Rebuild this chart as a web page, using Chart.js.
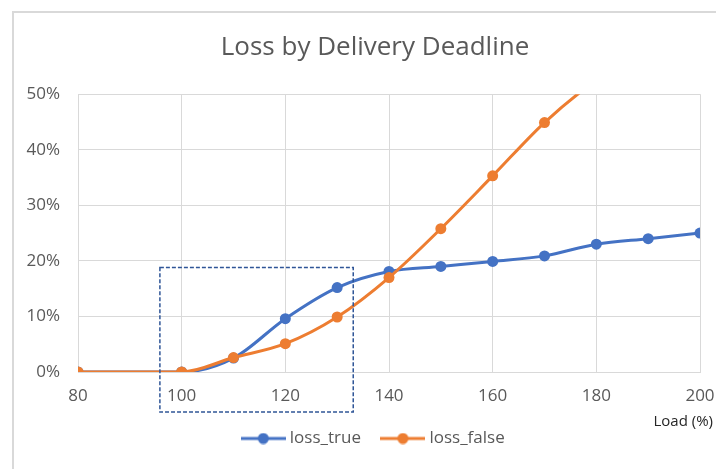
<!DOCTYPE html>
<html>
<head>
<meta charset="utf-8">
<script src="https://cdn.jsdelivr.net/npm/chart.js@4.4.0/dist/chart.umd.min.js"></script>
<style>
  body { margin: 0; background: #fff; }
</style>
</head>
<body>
<canvas id="myChart" width="716" height="469"></canvas>
<script>
'use strict';
// Load (%) on the x axis
const loads = [80, 100, 110, 120, 130, 140, 150, 160, 170, 180, 190, 200];
// Loss in percent (loss_false runs off the top after ~176)
const lossTrue = [0, 0, 2.5, 9.6, 15.2, 18.1, 19.0, 19.9, 20.9, 23.0, 24.0, 25.0];
const lossFalse = [0, 0, 2.6, 5.1, 9.9, 17.0, 25.8, 35.3, 44.9, 52.5, 58, 63];
const seriesNames = ['loss_true', 'loss_false'];
const xTicks = [80, 100, 120, 140, 160, 180, 200];
const yTicks = [0, 10, 20, 30, 40, 50];
// The dashed highlight box, in data units
const zoomBox = {xMin: 95.8, xMax: 133.1, yMin: -7.2, yMax: 18.8};

const blue = '#4472C4';
const orange = '#ED7D31';
const grey = '#595959';
const gridColor = '#D9D9D9';
const font = '"Open Sans", sans-serif';

function toPoints(values) {
    return values.map((v, i) => ({x: loads[i], y: v}));
}

// Little line + dot image for the legend, like Excel draws it
function legendMarker(color) {
    let c = document.createElement('canvas');
    c.width = 45;
    c.height = 12;
    let g = c.getContext('2d');
    g.strokeStyle = color;
    g.lineWidth = 3;
    g.beginPath();
    g.moveTo(0, 6);
    g.lineTo(45, 6);
    g.stroke();
    g.fillStyle = color;
    g.beginPath();
    g.arc(22.5, 6, 5.5, 0, Math.PI * 2);
    g.fill();
    return c;
}

const markers = [legendMarker(blue), legendMarker(orange)];

// Frame round the chart, dashed box and the axis title at the right
const extras = {
    id: 'extras',
    afterLayout(chart) {
        // Excel centres title and legend a bit further right than Chart.js does
        [chart.titleBlock, chart.legend].forEach(box => {
            box.left += 25;
            box.right += 25;
        });
    },
    beforeDraw(chart) {
        const ctx = chart.ctx;
        ctx.save();
        ctx.strokeStyle = gridColor;
        ctx.lineWidth = 2;
        ctx.strokeRect(13, 12, 800, 600);
        ctx.restore();
    },
    afterDraw(chart) {
        const ctx = chart.ctx;
        const x = chart.scales.x, y = chart.scales.y;
        ctx.save();
        ctx.strokeStyle = '#2F5597';
        ctx.lineWidth = 1.5;
        ctx.setLineDash([4, 2]);
        let left = x.getPixelForValue(zoomBox.xMin), right = x.getPixelForValue(zoomBox.xMax);
        let top = y.getPixelForValue(zoomBox.yMax), bottom = y.getPixelForValue(zoomBox.yMin);
        ctx.strokeRect(left, top, right - left, bottom - top);
        ctx.setLineDash([]);
        ctx.fillStyle = '#262626';
        ctx.font = '15px ' + font;
        ctx.textAlign = 'right';
        ctx.textBaseline = 'middle';
        ctx.fillText('Load (%)', 713, y.bottom + 50);
        ctx.restore();
    }
};

const ctx = document.getElementById('myChart').getContext('2d');
const chart = new Chart(ctx, {
    type: 'line',
    data: {
        datasets: [{
            label: seriesNames[0],
            data: toPoints(lossTrue),
            borderColor: blue,
            backgroundColor: blue,
            order: 1
        }, {
            label: seriesNames[1],
            data: toPoints(lossFalse),
            borderColor: orange,
            backgroundColor: orange,
            order: 0
        }]
    },
    options: {
        responsive: false,
        animation: false,
        layout: {padding: {left: 0, right: 16, top: 0, bottom: 12}},
        elements: {
            line: {borderWidth: 3, cubicInterpolationMode: 'monotone'},
            point: {radius: 5.5, borderWidth: 0, hoverRadius: 5.5}
        },
        scales: {
            x: {
                type: 'linear',
                min: 80,
                max: 200,
                afterBuildTicks: scale => { scale.ticks = xTicks.map(v => ({value: v})); },
                afterFit: scale => {
                    scale.height = 34;
                    scale.paddingLeft = 0;
                    scale.paddingRight = 0;
                },
                grid: {color: gridColor, drawTicks: false},
                border: {color: gridColor},
                ticks: {color: grey, font: {family: font, size: 17}, padding: 14}
            },
            y: {
                min: 0,
                max: 50,
                afterBuildTicks: scale => { scale.ticks = yTicks.map(v => ({value: v})); },
                afterFit: scale => { scale.width = 78; },
                grid: {color: gridColor, drawTicks: false},
                border: {color: gridColor},
                ticks: {color: grey, font: {family: font, size: 17}, padding: 18, callback: v => v + '%'}
            }
        },
        plugins: {
            title: {
                display: true,
                text: 'Loss by Delivery Deadline',
                color: grey,
                font: {family: font, size: 26, weight: 'normal'},
                padding: {top: 32, bottom: 31}
            },
            legend: {
                position: 'bottom',
                labels: {
                    usePointStyle: true,
                    pointStyleWidth: 36,
                    padding: 24,
                    color: grey,
                    font: {family: font, size: 17},
                    generateLabels: c => c.data.datasets.map((ds, i) => ({
                        text: ds.label,
                        pointStyle: markers[i],
                        fillStyle: 'transparent',
                        strokeStyle: 'transparent',
                        lineWidth: 0,
                        fontColor: grey,
                        hidden: false,
                        datasetIndex: i
                    }))
                }
            },
            tooltip: {enabled: false}
        }
    },
    plugins: [extras]
});
</script>
</body>
</html>
